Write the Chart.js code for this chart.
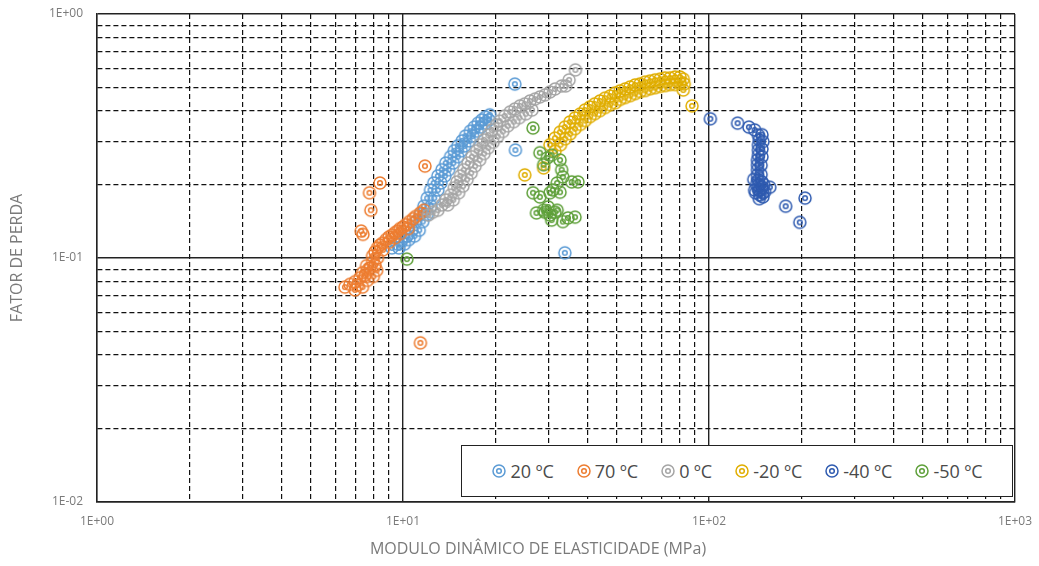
<!DOCTYPE html>
<html lang="pt">
<head>
<meta charset="utf-8">
<title>Fator de perda x módulo dinâmico</title>
<script src="https://cdn.jsdelivr.net/npm/chart.js@4.4.1/dist/chart.umd.min.js"></script>
<style>
  html, body { margin: 0; padding: 0; background: #fff; }
  #wrap { position: relative; width: 1039px; height: 566px; font-family: "Open Sans", sans-serif; }
  #chart { position: absolute; left: 0; top: 0; }
  #xtitle { position: absolute; top: 537px; left: 0; width: 1076px; text-align: center;
            font-size: 16px; color: #7a7a7a; white-space: nowrap; }
  #legend { position: absolute; left: 461px; top: 445px; width: 550px; height: 50px;
            border: 1.3px solid #222; background: #fff; display: flex; align-items: center;
            justify-content: center; gap: 22px; font-size: 18px; color: #4a4a4a; }
  .item { display: flex; align-items: center; gap: 3px; }
  .item canvas { display: block; }
</style>
</head>
<body>
<div id="wrap">
  <canvas id="chart" width="1039" height="566"></canvas>
  <div id="xtitle">MODULO DINÂMICO DE ELASTICIDADE (MPa)</div>
  <div id="legend"></div>
</div>
<script>
// Axis labels
const xTickLabels = ['1E+00', '1E+01', '1E+02', '1E+03'];
const yTickLabels = ['1E-02', '1E-01', '1E+00'];
const yTitle = 'FATOR DE PERDA';

// Series names
const seriesNames = ['20 ºC', '70 ºC', '0 ºC', '-20 ºC', '-40 ºC', '-50 ºC'];
const seriesColors = ['#5B9BD5', '#ED7D31', '#A5A5A5', '#E0AE00', '#2F5BB0', '#5FA03A'];

// [módulo dinâmico (MPa), fator de perda]
const s20 = [
  [9.2,0.110],[9.6,0.114],[9.9,0.119],[10.3,0.123],[10.7,0.130],[11.0,0.141],[11.4,0.151],
  [11.7,0.163],[12.0,0.176],[12.3,0.190],[12.6,0.203],[13.0,0.217],[13.4,0.230],[13.8,0.245],
  [14.3,0.260],[14.7,0.275],[15.1,0.288],[15.6,0.302],[16.0,0.316],[16.6,0.331],[17.1,0.344],
  [17.6,0.357],[18.1,0.368],[18.6,0.378],[19.2,0.386],
  [9.7,0.110],[10.1,0.114],[10.45,0.119],[10.9,0.123],[11.3,0.130],[11.6,0.141],[12.0,0.151],
  [12.35,0.163],[12.65,0.176],[13.0,0.190],[13.3,0.203],[13.7,0.217],[14.1,0.230],[14.6,0.245],
  [15.1,0.260],[15.5,0.275],[15.9,0.288],[16.5,0.302],[16.9,0.316],[17.5,0.331],[18.0,0.344],
  [18.6,0.357],[19.1,0.368],
  [23.2,0.516],[23.3,0.277],[33.8,0.105]
];
const s70 = [
  [6.46,0.076],[6.71,0.078],[6.97,0.080],[7.10,0.0775],[6.97,0.074],[7.23,0.083],[7.37,0.087],
  [7.37,0.076],[7.51,0.085],[7.65,0.089],[7.65,0.081],[7.80,0.091],[7.95,0.0965],[8.00,0.084],
  [8.10,0.0936],[7.95,0.102],[8.10,0.106],[8.25,0.100],[8.25,0.110],[8.41,0.113],[8.57,0.115],
  [8.80,0.119],[9.00,0.122],[9.20,0.124],[9.42,0.127],[9.60,0.129],[9.78,0.132],[10.0,0.134],
  [10.2,0.137],[10.5,0.141],[10.8,0.145],[11.0,0.148],[11.4,0.153],[11.7,0.157],
  [8.6,0.108],[9.0,0.116],[9.4,0.121],[8.2,0.089],[7.6,0.093],[9.8,0.126],[10.4,0.132],
  [8.41,0.203],[7.77,0.185],[7.85,0.157],[7.40,0.125],[7.30,0.129],[11.8,0.238],[11.4,0.0449]
];
const s0 = [
  [12.1,0.150],[12.5,0.154],[13.0,0.157],[13.4,0.165],[13.8,0.173],[14.3,0.181],[14.7,0.194],
  [15.0,0.205],[15.4,0.217],[15.8,0.230],[16.3,0.245],[16.8,0.260],[17.4,0.275],[17.8,0.291],
  [18.4,0.305],[19.0,0.319],[19.5,0.335],[20.2,0.351],[20.7,0.364],[21.5,0.382],[22.4,0.397],
  [23.2,0.408],[24.1,0.420],[25.0,0.428],[26.0,0.440],[27.0,0.448],[28.0,0.457],[29.1,0.466],
  [30.2,0.479],[31.4,0.493],[33.0,0.507],[34.0,0.507],[34.9,0.537],[36.6,0.590],
  [14.0,0.165],[14.6,0.173],[15.2,0.185],[15.7,0.197],[16.2,0.210],[16.7,0.223],[17.2,0.238],
  [17.8,0.252],[18.4,0.268],[19.0,0.283],[19.7,0.298],[20.4,0.315],[21.2,0.330],[22.0,0.348],
  [23.0,0.362],[24.0,0.376],[25.2,0.390],[26.4,0.404]
];
const sM20 = [
  [30.2,0.291],[31.4,0.310],[32.6,0.328],[33.8,0.344],[35.1,0.361],[36.5,0.375],[37.9,0.389],
  [39.3,0.404],[40.8,0.416],[42.3,0.428],[44.0,0.440],[45.7,0.452],[47.5,0.461],[49.3,0.475],
  [51.2,0.484],[53.2,0.493],[55.2,0.502],[57.3,0.512],[59.5,0.517],[61.8,0.526],[64.1,0.531],
  [66.6,0.537],[69.2,0.541],[71.8,0.547],[74.6,0.547],[77.4,0.552],[80.4,0.552],[82.4,0.541],
  [83.0,0.517],[82.4,0.488],[88.0,0.420],
  [31.4,0.274],[32.7,0.291],[33.9,0.308],[35.2,0.323],[36.5,0.339],[38.0,0.353],[39.4,0.366],
  [40.9,0.380],[42.4,0.391],[44.0,0.402],[45.8,0.414],[47.5,0.425],[49.4,0.433],[51.3,0.447],
  [53.2,0.455],[55.3,0.463],[57.4,0.472],[59.6,0.481],[61.9,0.486],[64.3,0.494],[66.7,0.499],
  [69.3,0.505],[72.0,0.509],[74.7,0.514],[77.6,0.514],[80.5,0.519],
  [25.0,0.219],[28.8,0.234]
];
const sM40 = [
  [101,0.372],[124,0.357],[135,0.344],[141,0.335],[145,0.319],[146,0.305],[145,0.291],[145,0.277],
  [145,0.264],[144,0.252],[144,0.241],[144,0.230],[144,0.219],[145,0.209],[145,0.199],[146,0.190],
  [147,0.181],[149,0.195],[150,0.178],[152,0.187],[158,0.195],[178,0.163],[206,0.176],[198,0.140],
  [141,0.190],[140,0.210],[149,0.320],[150,0.300],[149,0.280],[149,0.260],[148,0.240],[148,0.220],
  [149,0.205],[151,0.200],[143,0.200],[142,0.185],[146,0.175],[150,0.185]
];
const sM50 = [
  [26.6,0.341],[28.0,0.270],[28.8,0.241],[29.6,0.257],[30.6,0.264],[32.6,0.252],[33.0,0.230],
  [33.3,0.215],[31.9,0.203],[30.9,0.190],[32.6,0.186],[37.3,0.205],[35.6,0.205],[26.6,0.185],
  [28.0,0.178],[30.2,0.185],[27.3,0.153],[28.8,0.157],[29.8,0.162],[30.2,0.150],[31.4,0.154],
  [30.6,0.143],[31.9,0.157],[34.6,0.146],[36.5,0.147],[33.3,0.141],[29.1,0.154],[10.3,0.099]
];
const seriesData = [s20, s70, s0, sM20, sM40, sM50];

// Ring-in-ring marker
function ringMarker(color) {
  const c = document.createElement('canvas');
  c.width = 16; c.height = 16;
  const g = c.getContext('2d');
  g.strokeStyle = color;
  g.lineWidth = 1.5;
  g.beginPath(); g.arc(8, 8, 6, 0, Math.PI * 2); g.stroke();
  g.beginPath(); g.arc(8, 8, 2.3, 0, Math.PI * 2); g.stroke();
  return c;
}

// Log ticks at 1..9 of every decade
function logTicks(minExp, maxExp) {
  const t = [];
  for (let e = minExp; e < maxExp; e++) {
    for (let k = 1; k <= 9; k++) t.push(k * Math.pow(10, e));
  }
  t.push(Math.pow(10, maxExp));
  return t;
}
const isDecade = v => Math.abs(Math.log10(v) - Math.round(Math.log10(v))) < 1e-6;
const gridDash = ctx => (ctx.tick && !isDecade(ctx.tick.value)) ? [5, 3] : [];
const gridWidth = ctx => (ctx.tick && isDecade(ctx.tick.value)) ? 1.4 : 1.2;
const gridColor = ctx => (ctx.tick && isDecade(ctx.tick.value)) ? '#222' : '#111';

const tickFont = { family: '"Open Sans", sans-serif', size: 12 };

const datasets = seriesNames.map((name, i) => ({
  label: name,
  data: seriesData[i].map(p => ({ x: p[0], y: p[1] })),
  pointStyle: ringMarker(seriesColors[i]),
  borderColor: seriesColors[i],
  backgroundColor: seriesColors[i],
  order: seriesNames.length - i
}));

new Chart(document.getElementById('chart'), {
  type: 'scatter',
  data: { datasets },
  options: {
    responsive: false,
    animation: false,
    events: [],
    layout: { padding: { left: 0, right: 24, top: 14, bottom: 0 } },
    plugins: { legend: { display: false }, tooltip: { enabled: false } },
    scales: {
      x: {
        type: 'logarithmic',
        min: 1, max: 1000,
        afterBuildTicks: s => { s.ticks = logTicks(0, 3).map(v => ({ value: v, major: isDecade(v) })); },
        afterFit: s => { s.height = 64; s.paddingLeft = 0; s.paddingRight = 0; },
        ticks: {
          autoSkip: false, maxRotation: 0, padding: 12, color: '#7a7a7a', font: tickFont,
          callback: v => isDecade(v) ? xTickLabels[Math.round(Math.log10(v))] : ''
        },
        grid: { color: gridColor, lineWidth: gridWidth, drawTicks: false, borderDash: gridDash },
        border: { display: true, color: '#222', width: 1.4, dash: gridDash },
        title: { display: false }
      },
      y: {
        type: 'logarithmic',
        min: 0.01, max: 1,
        afterBuildTicks: s => { s.ticks = logTicks(-2, 0).map(v => ({ value: v, major: isDecade(v) })); },
        afterFit: s => { s.width = 97; s.paddingTop = 0; s.paddingBottom = 0; },
        ticks: {
          autoSkip: false, padding: 14, color: '#7a7a7a', font: tickFont,
          callback: v => isDecade(v) ? yTickLabels[Math.round(Math.log10(v)) + 2] : ''
        },
        grid: { color: gridColor, lineWidth: gridWidth, drawTicks: false, borderDash: gridDash },
        border: { display: true, color: '#222', width: 1.4, dash: gridDash },
        title: {
          display: true, text: yTitle, color: '#7a7a7a',
          font: { family: '"Open Sans", sans-serif', size: 16 },
          padding: { top: 8, bottom: 0 }
        }
      }
    }
  }
});

// Legend box
const legend = document.getElementById('legend');
seriesNames.forEach((name, i) => {
  const item = document.createElement('div');
  item.className = 'item';
  item.appendChild(ringMarker(seriesColors[i]));
  const span = document.createElement('span');
  span.textContent = name;
  item.appendChild(span);
  legend.appendChild(item);
});
</script>
</body>
</html>
